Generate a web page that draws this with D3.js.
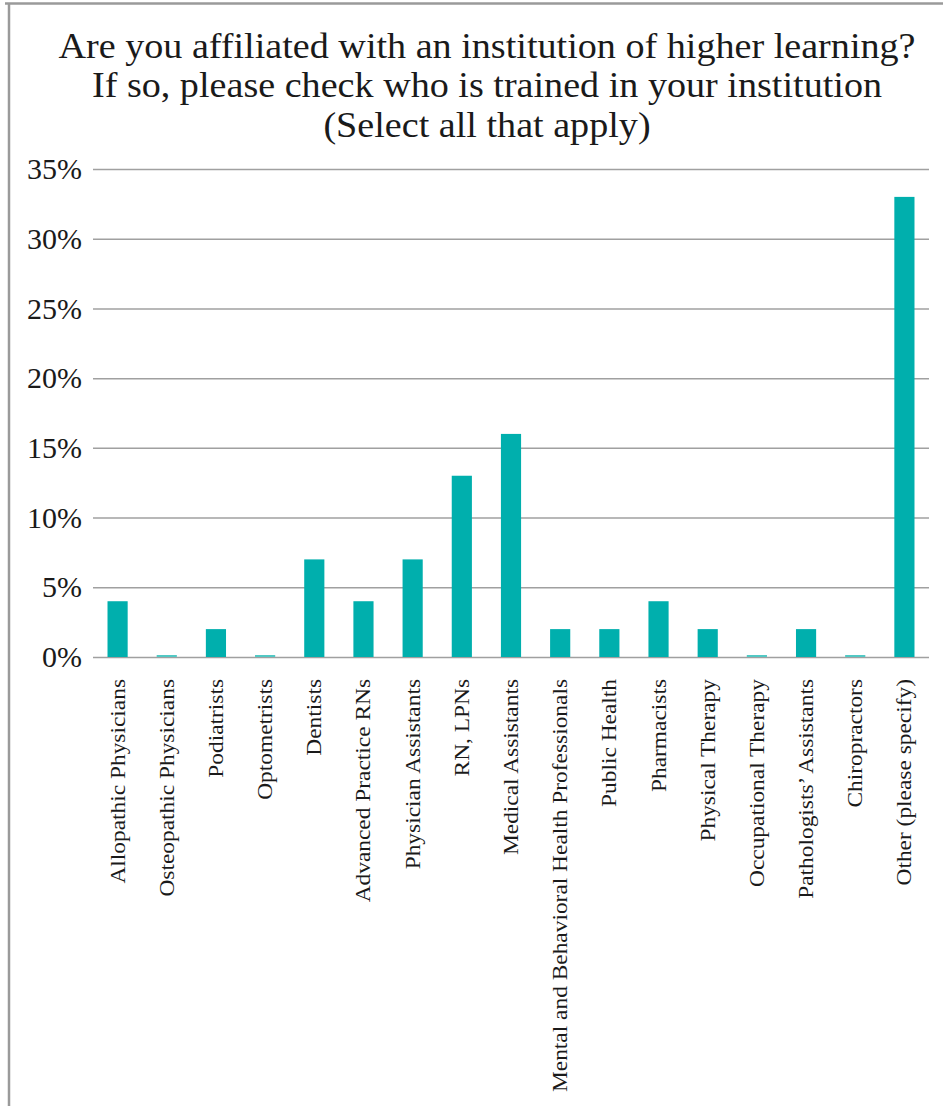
<!DOCTYPE html>
<html>
<head>
    <title>Institution of higher learning</title>
    <style>
        html, body {
            margin: 0;
            background: #fff;
        }
        svg text {
            font-family: "Liberation Serif", "Times New Roman", serif;
            fill: #1a1a1a;
        }
    </style>
    <script src="https://d3js.org/d3.v7.min.js"></script>
</head>
<body>
    <svg id="chart"></svg>
    <script>
        const titleLines = [
            "Are you affiliated with an institution of higher learning?",
            "If so, please check who is trained in your institution",
            "(Select all that apply)"
        ];
        const categories = [
            "Allopathic Physicians", "Osteopathic Physicians", "Podiatrists", "Optometrists",
            "Dentists", "Advanced Practice RNs", "Physician Assistants", "RN, LPNs",
            "Medical Assistants", "Mental and Behavioral Health Professionals", "Public Health",
            "Pharmacists", "Physical Therapy", "Occupational Therapy", "Pathologists\u2019 Assistants",
            "Chiropractors", "Other (please specify)"
        ];
        const values = [4, 0, 2, 0, 7, 4, 7, 13, 16, 2, 2, 4, 2, 0, 2, 0, 33];
        const yTicks = [0, 5, 10, 15, 20, 25, 30, 35];

        const W = 943, H = 1106;
        const margin = { top: 169, right: 14, bottom: 449, left: 93 };
        const width = W - margin.left - margin.right;
        const height = H - margin.top - margin.bottom;

        const svg = d3.select("#chart")
            .attr("width", W)
            .attr("height", H);

        // frame
        svg.append("line")
            .attr("x1", 5).attr("x2", W).attr("y1", 3.5).attr("y2", 3.5)
            .attr("stroke", "#9a9a9a").attr("stroke-width", 2.5);
        svg.append("line")
            .attr("x1", 9).attr("x2", 9).attr("y1", 3).attr("y2", H)
            .attr("stroke", "#9a9a9a").attr("stroke-width", 2.5);

        // title (stretched a little to get the wide book-face look)
        svg.append("g")
            .attr("transform", "translate(487,0) scale(1.09,1)")
            .selectAll(".title")
            .data(titleLines)
            .enter()
            .append("text")
            .attr("class", "title")
            .attr("x", 0)
            .attr("y", (d, i) => 58 + i * 39.5)
            .attr("text-anchor", "middle")
            .attr("font-size", "35px")
            .text(d => d);

        const g = svg.append("g")
            .attr("transform", "translate(" + margin.left + "," + margin.top + ")");

        const x = d3.scaleBand()
            .domain(categories)
            .range([0, width])
            .paddingInner(0.59)
            .paddingOuter(0.295);

        const y = d3.scaleLinear()
            .domain([0, 35])
            .range([height, 0]);

        const yAxis = g.append("g")
            .call(d3.axisLeft(y)
                .tickValues(yTicks)
                .tickSize(-width)
                .tickPadding(11)
                .tickFormat(d => d + "%"));
        yAxis.select(".domain").remove();
        yAxis.selectAll(".tick line")
            .attr("stroke", "#a0a0a0")
            .attr("stroke-width", 1.5);
        yAxis.selectAll(".tick text")
            .attr("font-size", "30px")
            .attr("font-family", "Liberation Serif, serif")
            .attr("fill", "#222");

        g.selectAll(".bar")
            .data(values)
            .enter()
            .append("rect")
            .attr("class", "bar")
            .attr("x", (d, i) => x(categories[i]))
            .attr("width", x.bandwidth())
            .attr("y", d => d > 0 ? y(d) : height - 2)
            .attr("height", d => d > 0 ? height - y(d) : 2)
            .attr("fill", d => d > 0 ? "#00afad" : "#52c8c4");

        g.selectAll(".x-label")
            .data(categories)
            .enter()
            .append("text")
            .attr("class", "x-label")
            .attr("transform", d => "translate(" + (x(d) + x.bandwidth() / 2) + "," + (height + 22) + ") rotate(-90) scale(1.17,1)")
            .attr("dy", "0.35em")
            .attr("text-anchor", "end")
            .attr("font-size", "20px")
            .text(d => d);
    </script>
</body>
</html>
